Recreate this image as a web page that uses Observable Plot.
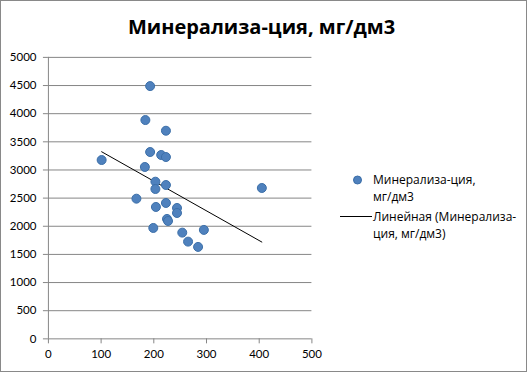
<!DOCTYPE html>
<html>
<head>
<meta charset="utf-8">
<script src="https://cdn.jsdelivr.net/npm/d3@7"></script>
<script src="https://cdn.jsdelivr.net/npm/@observablehq/plot@0.6"></script>
<style>
  html, body { margin: 0; padding: 0; background: #fff; }
  #wrap { position: relative; width: 527px; height: 372px; box-sizing: border-box; border: 1px solid #898989; overflow: hidden; font-family: Lato, "Open Sans", sans-serif; }
  #chart { position: absolute; left: -1px; top: -1px; }
  #title { position: absolute; left: 0; width: 521px; top: 12px; text-align: center; font-family: "Open Sans", sans-serif; font-weight: bold; font-size: 20px; color: #000; }
  .leg { position: absolute; font-size: 12px; line-height: 17px; color: #000; font-family: "Open Sans", sans-serif; }
</style>
</head>
<body>
<div id="wrap">
  <div id="chart"></div>
  <div id="title"></div>
  <svg id="legsvg" width="527" height="372" style="position:absolute;left:-1px;top:-1px;pointer-events:none"></svg>
  <div class="leg" id="leg1" style="left:372px;top:170px"></div>
  <div class="leg" id="leg2" style="left:372px;top:207px"></div>
</div>
<script>
const titleText = "Минерализа-ция, мг/дм3";
const seriesName = ["Минерализа-ция,", "мг/дм3"];
const trendName = ["Линейная (Минерализа-", "ция, мг/дм3)"];

const xValues = [193, 184, 223, 101, 193, 214, 223, 183, 203, 203, 223, 405, 167, 204, 223, 244, 244, 225, 227, 199, 254, 295, 265, 284];
const yValues = [4490, 3887, 3697, 3177, 3319, 3266, 3230, 3053, 2792, 2662, 2733, 2680, 2490, 2343, 2414, 2325, 2236, 2130, 2094, 1970, 1887, 1935, 1727, 1633];
const xTicks = [0, 100, 200, 300, 400, 500];
const yTicks = [0, 500, 1000, 1500, 2000, 2500, 3000, 3500, 4000, 4500, 5000];

const data = xValues.map((x, i) => ({x, y: yValues[i]}));
const gray = "#868686";
const dotFill = "#4f81bd";
const dotStroke = "#3b6ea8";

const chart = Plot.plot({
  width: 527,
  height: 372,
  marginLeft: 48,
  marginRight: 215,
  marginTop: 57,
  marginBottom: 33,
  style: {fontFamily: "Lato, sans-serif", fontSize: "11.5px", color: "#000", background: "transparent"},
  x: {domain: [0, 500]},
  y: {domain: [0, 5000]},
  marks: [
    Plot.gridY(yTicks, {stroke: gray, strokeOpacity: 1}),
    Plot.ruleX([0], {stroke: gray}),
    Plot.axisY(yTicks, {tickSize: 5, tickPadding: 7, stroke: gray, strokeOpacity: 1, fill: "#000", label: null, tickFormat: d3.format("d")}),
    Plot.axisX(xTicks, {tickSize: 5, tickPadding: 6, stroke: gray, strokeOpacity: 1, fill: "#000", label: null, tickFormat: d3.format("d")}),
    Plot.linearRegressionY(data, {x: "x", y: "y", ci: 0, stroke: "#000", strokeWidth: 1}),
    Plot.dot(data, {x: "x", y: "y", r: 4.5, fill: dotFill, stroke: dotStroke, strokeWidth: 1})
  ]
});
document.getElementById("chart").appendChild(chart);
document.getElementById("title").textContent = titleText;
document.getElementById("leg1").innerHTML = seriesName.join("<br>");
document.getElementById("leg2").innerHTML = trendName.join("<br>");

const ls = d3.select("#legsvg");
ls.append("circle").attr("cx", 357.5).attr("cy", 180).attr("r", 4).attr("fill", dotFill).attr("stroke", dotStroke);
ls.append("line").attr("x1", 340).attr("x2", 372).attr("y1", 216.5).attr("y2", 216.5).attr("stroke", "#000").attr("stroke-width", 1);
</script>
</body>
</html>
